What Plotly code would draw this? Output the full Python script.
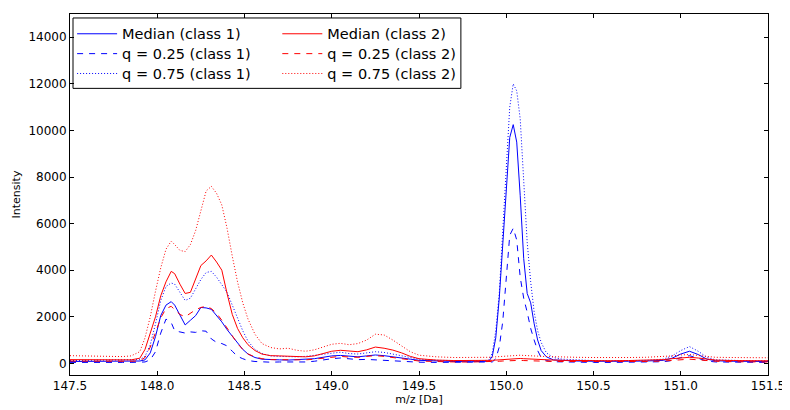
import plotly.graph_objects as go

mz = [147.50, 147.60, 147.70, 147.80, 147.85, 147.90, 147.93, 147.96, 147.99, 148.02,
      148.05, 148.08, 148.10, 148.13, 148.16, 148.19, 148.22, 148.25, 148.28, 148.31,
      148.34, 148.37, 148.40, 148.43, 148.46, 148.49, 148.52, 148.56, 148.60, 148.65,
      148.70, 148.75, 148.80, 148.85, 148.90, 148.95, 149.00, 149.05, 149.10, 149.15,
      149.20, 149.25, 149.30, 149.35, 149.40, 149.45, 149.50, 149.60, 149.70, 149.80,
      149.86, 149.90, 149.92, 149.94, 149.96, 149.98, 150.00, 150.02, 150.04, 150.06,
      150.08, 150.10, 150.12, 150.14, 150.16, 150.18, 150.20, 150.23, 150.27, 150.32,
      150.40, 150.50, 150.60, 150.70, 150.80, 150.90, 150.95, 151.00, 151.05, 151.10,
      151.15, 151.20, 151.30, 151.40, 151.50]

median_c1 = [80, 90, 70, 80, 90, 100, 150, 450, 1150, 2050,
             2500, 2650, 2500, 2050, 1650, 1850, 2050, 2400, 2380, 2320,
             2050, 1780, 1450, 1150, 850, 600, 400, 250, 180, 150,
             150, 140, 150, 160, 200, 260, 320, 340, 300, 280,
             320, 360, 330, 290, 250, 180, 130, 90, 80, 70,
             70, 90, 300, 1100, 2800, 5000, 7600, 9700, 10250, 9500,
             7200, 4500, 3000, 2600, 1700, 1000, 550, 280, 150, 120,
             100, 90, 80, 90, 100, 130, 220, 400, 520, 380,
             180, 110, 90, 80, 80]

q25_c1 = [40, 50, 30, 40, 40, 50, 60, 150, 500, 1300,
          1900, 1750, 1400, 1350, 1300, 1350, 1330, 1400, 1380, 1050,
          900, 850, 750, 520, 300, 200, 120, 80, 60, 50,
          60, 60, 50, 60, 90, 150, 200, 230, 180, 160,
          170, 150, 120, 110, 100, 70, 50, 40, 40, 40,
          40, 40, 60, 200, 700, 1800, 3500, 5500, 5800, 5300,
          3700, 2800, 2200, 1500, 1000, 550, 250, 120, 70, 60,
          50, 40, 40, 50, 50, 70, 120, 250, 330, 220,
          100, 60, 50, 40, 40]

q75_c1 = [120, 130, 110, 120, 130, 160, 300, 800, 1700, 2700,
          3300, 3450, 3400, 3050, 2700, 2800, 3200, 3600, 3900, 3950,
          3700, 3400, 3050, 2500, 1950, 1400, 950, 600, 420, 320,
          300, 280, 280, 300, 340, 400, 450, 480, 420, 400,
          450, 500, 470, 400, 330, 250, 180, 130, 110, 100,
          110, 140, 450, 1400, 3000, 5700, 8500, 11000, 12000, 11700,
          10500, 7900, 5200, 3500, 2200, 1400, 900, 450, 250, 180,
          140, 120, 110, 120, 130, 180, 320, 550, 720, 520,
          260, 150, 120, 110, 110]

median_c2 = [160, 150, 140, 130, 150, 220, 600, 1300, 2000, 2900,
             3500, 3950, 3850, 3400, 3000, 3050, 3600, 4200, 4400, 4650,
             4350, 4000, 3000, 2100, 1500, 1100, 800, 550, 400, 330,
             320, 300, 290, 280, 320, 420, 520, 560, 520, 500,
             580, 700, 650, 570, 450, 300, 200, 140, 120, 110,
             110, 120, 130, 140, 150, 160, 180, 200, 210, 220,
             210, 200, 190, 180, 170, 160, 160, 150, 140, 130,
             120, 110, 110, 120, 130, 160, 200, 240, 260, 230,
             180, 140, 120, 110, 110]

q25_c2 = [100, 90, 80, 80, 90, 110, 250, 700, 1350, 1950,
          2350, 2450, 2300, 2100, 2000, 2150, 2300, 2400, 2450, 2350,
          2150, 1850, 1500, 1150, 850, 600, 400, 280, 200, 160,
          150, 140, 140, 150, 180, 230, 280, 300, 270, 260,
          300, 330, 300, 260, 210, 150, 100, 70, 60, 60,
          60, 70, 70, 80, 90, 100, 110, 120, 130, 140,
          130, 120, 120, 110, 110, 100, 100, 90, 80, 80,
          70, 60, 60, 70, 80, 100, 130, 160, 180, 150,
          110, 90, 70, 60, 60]

q75_c2 = [330, 310, 300, 290, 320, 500, 1100, 2000, 3100, 4100,
          4900, 5250, 5100, 4850, 4800, 5100, 5700, 6600, 7400, 7600,
          7300, 6800, 5800, 4600, 3500, 2600, 1900, 1250, 850, 680,
          620, 650, 560, 520, 580, 700, 820, 860, 800, 850,
          1000, 1250, 1220, 1000, 750, 500, 350, 280, 250, 240,
          250, 260, 270, 280, 290, 300, 320, 340, 350, 360,
          350, 340, 340, 330, 320, 310, 300, 290, 280, 270,
          260, 250, 240, 250, 260, 280, 320, 360, 380, 340,
          290, 260, 250, 240, 240]

x_ticks = [147.5, 148.0, 148.5, 149.0, 149.5, 150.0, 150.5, 151.0, 151.5]
y_ticks = [0, 2000, 4000, 6000, 8000, 10000, 12000, 14000]

# name, values, colour, dash, legend id, column, row
series = [
    ("Median (class 1)", median_c1, "#0000ff", "solid", "legend", 0, 0),
    ("q = 0.25 (class 1)", q25_c1, "#0000ff", "6px,6px", "legend2", 0, 1),
    ("q = 0.75 (class 1)", q75_c1, "#0000ff", "1px,2px", "legend3", 0, 2),
    ("Median (class 2)", median_c2, "#ff0000", "solid", "legend4", 1, 0),
    ("q = 0.25 (class 2)", q25_c2, "#ff0000", "6px,6px", "legend5", 1, 1),
    ("q = 0.75 (class 2)", q75_c2, "#ff0000", "1px,2px", "legend6", 1, 2),
]

fig = go.Figure()
for name, vals, col, dash, leg, c, r in series:
    fig.add_trace(go.Scatter(x=mz, y=vals, mode="lines", name=name, legend=leg,
                             line=dict(color=col, width=1, dash=dash)))

axis_common = dict(showline=True, linecolor="black", linewidth=1, mirror="ticks",
                   ticks="inside", ticklen=4, tickcolor="black", showgrid=False,
                   zeroline=False, tickfont=dict(size=12, color="black"),
                   ticklabeloverflow="allow")

col_x = [0.003, 0.297]
row_y = [0.945, 0.890, 0.835]
legends = {}
for name, vals, col, dash, leg, c, r in series:
    legends[leg] = dict(orientation="v", yanchor="middle", xanchor="left",
                        x=col_x[c], y=row_y[r], itemwidth=40,
                        bgcolor="rgba(0,0,0,0)", borderwidth=0,
                        font=dict(size=14.5, color="black"))

fig.update_layout(
    width=782, height=400,
    margin=dict(l=62, r=20, t=5, b=31),
    paper_bgcolor="white", plot_bgcolor="white",
    font=dict(family="DejaVu Sans", size=12, color="black"),
    xaxis=dict(range=[147.5, 151.5], tickvals=x_ticks,
               ticktext=[f"{v:.1f}" for v in x_ticks],
               title=dict(text="m/z [Da]", font=dict(size=11), standoff=2), **axis_common),
    yaxis=dict(range=[-500, 15000], tickvals=y_ticks,
               ticktext=[str(v) for v in y_ticks],
               title=dict(text="Intensity", font=dict(size=11), standoff=5), **axis_common),
    shapes=[dict(type="rect", xref="paper", yref="paper",
                 x0=0.0043, x1=0.56, y0=0.794, y1=0.989,
                 line=dict(color="black", width=1), fillcolor="white", layer="below")],
    showlegend=True,
    **legends,
)

fig.write_html("out.html")
